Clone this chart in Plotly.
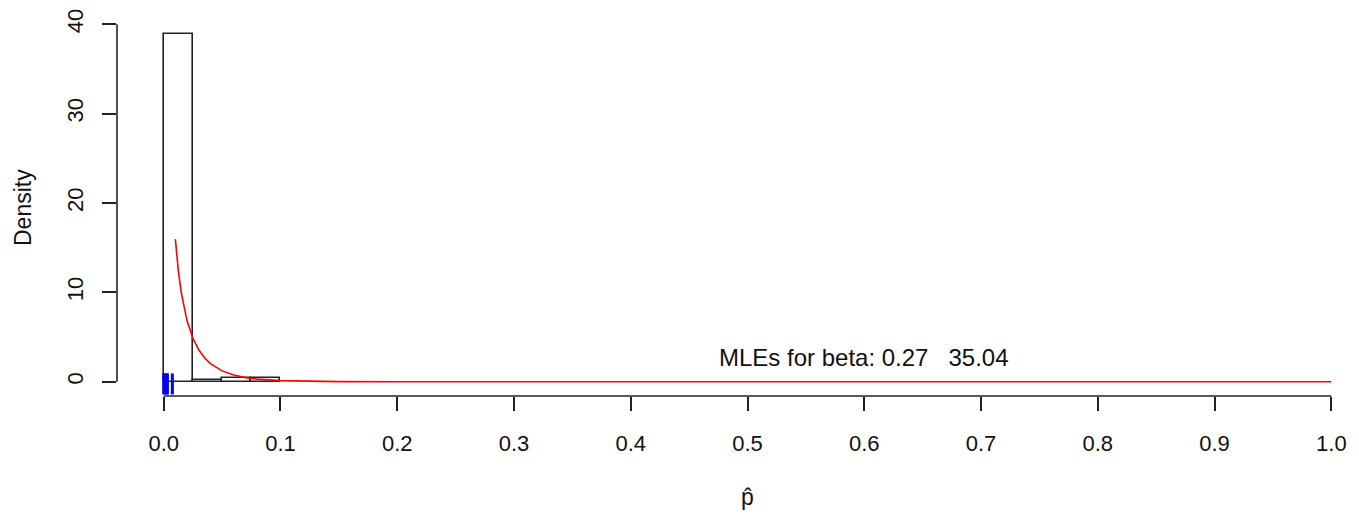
import plotly.graph_objects as go

# Histogram of the estimated proportions (density scale)
hist_edges = [0.0, 0.025, 0.05, 0.075, 0.10]
hist_density = [38.9, 0.2, 0.45, 0.45]

# Fitted beta density
fit_p = [0.01, 0.0125, 0.015, 0.0175, 0.02, 0.025, 0.03, 0.035, 0.04, 0.05,
         0.06, 0.07, 0.08, 0.10, 0.12, 0.15, 0.20, 0.30, 1.0]
fit_density = [15.95, 12.44, 9.99, 8.18, 6.81, 4.86, 3.57, 2.68, 2.03, 1.21,
               0.74, 0.46, 0.29, 0.12, 0.05, 0.01, 0.0, 0.0, 0.0]

# Individual observations shown as a rug
rug_p = [0.0, 0.0012, 0.0024, 0.0032, 0.0074]

x_ticks = [0.0, 0.1, 0.2, 0.3, 0.4, 0.5, 0.6, 0.7, 0.8, 0.9, 1.0]
x_tick_text = ["0.0", "0.1", "0.2", "0.3", "0.4", "0.5", "0.6", "0.7", "0.8", "0.9", "1.0"]
y_ticks = [0, 10, 20, 30, 40]

mle_a, mle_b = 0.27, 35.04
mle_label = f"MLEs for beta: {mle_a:.2f}   {mle_b:.2f}"

FONT = "Liberation Sans, Arial, sans-serif"
AXIS_COLOR = "#222222"

centers = [(a + b) / 2 for a, b in zip(hist_edges[:-1], hist_edges[1:])]
widths = [b - a for a, b in zip(hist_edges[:-1], hist_edges[1:])]

fig = go.Figure()

fig.add_trace(go.Bar(
    x=centers, y=hist_density, width=widths, base=0,
    marker=dict(color="white", line=dict(color=AXIS_COLOR, width=1.6)),
    showlegend=False, hoverinfo="skip",
))

fig.add_trace(go.Scatter(
    x=fit_p, y=fit_density, mode="lines",
    line=dict(color="#ff0000", width=1.6),
    showlegend=False, hoverinfo="skip",
))

fig.add_trace(go.Scatter(
    x=rug_p, y=[-0.25] * len(rug_p), mode="markers",
    marker=dict(symbol="line-ns", size=15, color="#0000ff",
                line=dict(color="#0000ff", width=3)),
    showlegend=False, hoverinfo="skip",
))

# R-style axis lines spanning only the tick range
fig.add_shape(type="line", xref="x", yref="paper",
              x0=min(x_ticks), x1=max(x_ticks), y0=0, y1=0,
              line=dict(color=AXIS_COLOR, width=1.6))
fig.add_shape(type="line", xref="paper", yref="y",
              x0=0, x1=0, y0=min(y_ticks), y1=max(y_ticks),
              line=dict(color=AXIS_COLOR, width=1.6))

fig.add_annotation(x=0.6, y=2.7, xref="x", yref="y", text=mle_label,
                   showarrow=False, font=dict(family=FONT, size=24, color="#111111"),
                   xanchor="center", yanchor="middle")

fig.add_annotation(x=0.5, y=0, xref="x", yref="paper", text="p\u0302",
                   showarrow=False, font=dict(family=FONT, size=23, color="#111111"),
                   xanchor="center", yanchor="middle", yshift=-101)

fig.add_annotation(x=0, y=0.487, xref="paper", yref="paper", text="Density",
                   showarrow=False, textangle=-90,
                   font=dict(family=FONT, size=23, color="#111111"),
                   xanchor="center", yanchor="middle", xshift=-94)

fig.update_layout(
    width=1359, height=516,
    margin=dict(l=117, r=0, t=10, b=120),
    paper_bgcolor="white", plot_bgcolor="white",
    bargap=0,
    font=dict(family=FONT, size=22, color="#111111"),
    xaxis=dict(range=[-0.04, 1.0237], tickvals=x_ticks, ticktext=x_tick_text,
               ticks="outside", ticklen=14, tickwidth=1.6, tickcolor=AXIS_COLOR,
               showline=False, showgrid=False, zeroline=False,
               ticklabelstandoff=14),
    yaxis=dict(range=[-1.6, 41.6], tickvals=y_ticks,
               ticks="outside", ticklen=14, tickwidth=1.6, tickcolor=AXIS_COLOR,
               showline=False, showgrid=False, zeroline=False,
               tickangle=-90, ticklabelstandoff=10),
)

fig.write_html("out.html")
